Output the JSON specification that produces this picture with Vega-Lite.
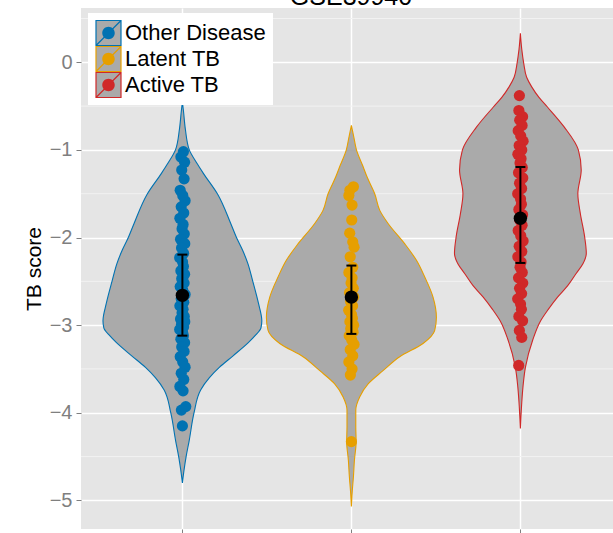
{
"$schema": "https://vega.github.io/schema/vega-lite/v6.json",
"width": 532,
"height": 521,
"autosize": {"type": "none"},
"padding": {"left": 81, "top": 8, "right": 0, "bottom": 4},
"background": "white",
"title": {"text": "GSE39940", "fontSize": 25, "font": "Liberation Sans", "fontWeight": "normal", "color": "black", "anchor": "middle", "frame": "group", "offset": -2, "dx": 4},
"config": {
  "view": {"fill": "#E5E5E5", "stroke": null},
  "font": "Liberation Sans",
  "axis": {"grid": true, "gridColor": "white", "gridWidth": 1.5, "domain": false, "tickColor": "#7F7F7F", "tickSize": 5, "tickWidth": 1, "labelColor": "#7F7F7F", "labelFontSize": 20, "labelFont": "Liberation Sans", "labelPadding": 4, "titleFont": "Liberation Sans", "titleFontSize": 21, "titleFontWeight": "normal", "titleColor": "black", "titlePadding": 5}
},
"datasets": {
  "minor": [{"v": 0.5}, {"v": -0.5}, {"v": -1.5}, {"v": -2.5}, {"v": -3.5}, {"v": -4.5}],
  "violin": [
    {"group": "Other Disease", "y": -0.45, "lo": 1, "hi": 1},
    {"group": "Other Disease", "y": -0.55, "lo": 0.994, "hi": 1.006},
    {"group": "Other Disease", "y": -0.77, "lo": 0.982, "hi": 1.018},
    {"group": "Other Disease", "y": -1.0, "lo": 0.959, "hi": 1.041},
    {"group": "Other Disease", "y": -1.15, "lo": 0.915, "hi": 1.085},
    {"group": "Other Disease", "y": -1.27, "lo": 0.875, "hi": 1.125},
    {"group": "Other Disease", "y": -1.5, "lo": 0.793, "hi": 1.207},
    {"group": "Other Disease", "y": -1.84, "lo": 0.714, "hi": 1.286},
    {"group": "Other Disease", "y": -2.0, "lo": 0.68, "hi": 1.32},
    {"group": "Other Disease", "y": -2.14, "lo": 0.645, "hi": 1.355},
    {"group": "Other Disease", "y": -2.3, "lo": 0.612, "hi": 1.388},
    {"group": "Other Disease", "y": -2.49, "lo": 0.585, "hi": 1.415},
    {"group": "Other Disease", "y": -2.75, "lo": 0.55, "hi": 1.45},
    {"group": "Other Disease", "y": -2.95, "lo": 0.53, "hi": 1.47},
    {"group": "Other Disease", "y": -3.03, "lo": 0.535, "hi": 1.465},
    {"group": "Other Disease", "y": -3.12, "lo": 0.57, "hi": 1.43},
    {"group": "Other Disease", "y": -3.2, "lo": 0.61, "hi": 1.39},
    {"group": "Other Disease", "y": -3.35, "lo": 0.7, "hi": 1.3},
    {"group": "Other Disease", "y": -3.48, "lo": 0.78, "hi": 1.22},
    {"group": "Other Disease", "y": -3.6, "lo": 0.84, "hi": 1.16},
    {"group": "Other Disease", "y": -3.74, "lo": 0.892, "hi": 1.108},
    {"group": "Other Disease", "y": -4.0, "lo": 0.931, "hi": 1.069},
    {"group": "Other Disease", "y": -4.32, "lo": 0.96, "hi": 1.04},
    {"group": "Other Disease", "y": -4.5, "lo": 0.978, "hi": 1.022},
    {"group": "Other Disease", "y": -4.65, "lo": 0.99, "hi": 1.01},
    {"group": "Other Disease", "y": -4.8, "lo": 1, "hi": 1},
    {"group": "Latent TB", "y": -0.72, "lo": 2, "hi": 2},
    {"group": "Latent TB", "y": -0.85, "lo": 1.986, "hi": 2.014},
    {"group": "Latent TB", "y": -1.0, "lo": 1.97, "hi": 2.03},
    {"group": "Latent TB", "y": -1.19, "lo": 1.931, "hi": 2.069},
    {"group": "Latent TB", "y": -1.31, "lo": 1.907, "hi": 2.093},
    {"group": "Latent TB", "y": -1.5, "lo": 1.862, "hi": 2.138},
    {"group": "Latent TB", "y": -1.69, "lo": 1.832, "hi": 2.168},
    {"group": "Latent TB", "y": -1.84, "lo": 1.783, "hi": 2.217},
    {"group": "Latent TB", "y": -2.07, "lo": 1.685, "hi": 2.315},
    {"group": "Latent TB", "y": -2.26, "lo": 1.615, "hi": 2.385},
    {"group": "Latent TB", "y": -2.45, "lo": 1.566, "hi": 2.434},
    {"group": "Latent TB", "y": -2.68, "lo": 1.517, "hi": 2.483},
    {"group": "Latent TB", "y": -2.91, "lo": 1.497, "hi": 2.503},
    {"group": "Latent TB", "y": -3.06, "lo": 1.507, "hi": 2.493},
    {"group": "Latent TB", "y": -3.21, "lo": 1.576, "hi": 2.424},
    {"group": "Latent TB", "y": -3.36, "lo": 1.714, "hi": 2.286},
    {"group": "Latent TB", "y": -3.52, "lo": 1.813, "hi": 2.187},
    {"group": "Latent TB", "y": -3.67, "lo": 1.901, "hi": 2.099},
    {"group": "Latent TB", "y": -3.82, "lo": 1.951, "hi": 2.049},
    {"group": "Latent TB", "y": -3.97, "lo": 1.974, "hi": 2.026},
    {"group": "Latent TB", "y": -4.16, "lo": 1.974, "hi": 2.026},
    {"group": "Latent TB", "y": -4.33, "lo": 1.972, "hi": 2.028},
    {"group": "Latent TB", "y": -4.54, "lo": 1.982, "hi": 2.018},
    {"group": "Latent TB", "y": -4.73, "lo": 1.988, "hi": 2.012},
    {"group": "Latent TB", "y": -4.9, "lo": 1.995, "hi": 2.005},
    {"group": "Latent TB", "y": -5.07, "lo": 2, "hi": 2},
    {"group": "Active TB", "y": 0.33, "lo": 3, "hi": 3},
    {"group": "Active TB", "y": 0.15, "lo": 2.992, "hi": 3.008},
    {"group": "Active TB", "y": -0.015, "lo": 2.98, "hi": 3.02},
    {"group": "Active TB", "y": -0.17, "lo": 2.963, "hi": 3.037},
    {"group": "Active TB", "y": -0.28, "lo": 2.933, "hi": 3.067},
    {"group": "Active TB", "y": -0.4, "lo": 2.89, "hi": 3.11},
    {"group": "Active TB", "y": -0.51, "lo": 2.84, "hi": 3.16},
    {"group": "Active TB", "y": -0.74, "lo": 2.74, "hi": 3.26},
    {"group": "Active TB", "y": -1.0, "lo": 2.657, "hi": 3.343},
    {"group": "Active TB", "y": -1.23, "lo": 2.64, "hi": 3.36},
    {"group": "Active TB", "y": -1.5, "lo": 2.66, "hi": 3.34},
    {"group": "Active TB", "y": -1.73, "lo": 2.645, "hi": 3.355},
    {"group": "Active TB", "y": -1.99, "lo": 2.62, "hi": 3.38},
    {"group": "Active TB", "y": -2.18, "lo": 2.61, "hi": 3.39},
    {"group": "Active TB", "y": -2.3, "lo": 2.63, "hi": 3.37},
    {"group": "Active TB", "y": -2.41, "lo": 2.67, "hi": 3.33},
    {"group": "Active TB", "y": -2.55, "lo": 2.72, "hi": 3.28},
    {"group": "Active TB", "y": -2.68, "lo": 2.78, "hi": 3.22},
    {"group": "Active TB", "y": -2.82, "lo": 2.835, "hi": 3.165},
    {"group": "Active TB", "y": -2.95, "lo": 2.88, "hi": 3.12},
    {"group": "Active TB", "y": -3.17, "lo": 2.927, "hi": 3.073},
    {"group": "Active TB", "y": -3.48, "lo": 2.97, "hi": 3.03},
    {"group": "Active TB", "y": -3.71, "lo": 2.985, "hi": 3.015},
    {"group": "Active TB", "y": -3.95, "lo": 2.994, "hi": 3.006},
    {"group": "Active TB", "y": -4.18, "lo": 3, "hi": 3}
  ],
  "pts": [
    {"grp": "Other Disease", "x": 1.006, "score": -1.02},
    {"grp": "Other Disease", "x": 0.991, "score": -1.08},
    {"grp": "Other Disease", "x": 1.013, "score": -1.14},
    {"grp": "Other Disease", "x": 0.996, "score": -1.23},
    {"grp": "Other Disease", "x": 1.010, "score": -1.33},
    {"grp": "Other Disease", "x": 0.987, "score": -1.46},
    {"grp": "Other Disease", "x": 1.002, "score": -1.52},
    {"grp": "Other Disease", "x": 1.016, "score": -1.58},
    {"grp": "Other Disease", "x": 0.993, "score": -1.65},
    {"grp": "Other Disease", "x": 1.008, "score": -1.72},
    {"grp": "Other Disease", "x": 0.985, "score": -1.78},
    {"grp": "Other Disease", "x": 1.004, "score": -1.85},
    {"grp": "Other Disease", "x": 0.998, "score": -1.90},
    {"grp": "Other Disease", "x": 1.011, "score": -1.96},
    {"grp": "Other Disease", "x": 0.989, "score": -2.02},
    {"grp": "Other Disease", "x": 1.014, "score": -2.07},
    {"grp": "Other Disease", "x": 0.995, "score": -2.12},
    {"grp": "Other Disease", "x": 1.007, "score": -2.18},
    {"grp": "Other Disease", "x": 0.984, "score": -2.23},
    {"grp": "Other Disease", "x": 1.001, "score": -2.28},
    {"grp": "Other Disease", "x": 1.006, "score": -2.33},
    {"grp": "Other Disease", "x": 0.991, "score": -2.38},
    {"grp": "Other Disease", "x": 1.013, "score": -2.42},
    {"grp": "Other Disease", "x": 0.996, "score": -2.47},
    {"grp": "Other Disease", "x": 1.010, "score": -2.52},
    {"grp": "Other Disease", "x": 0.987, "score": -2.56},
    {"grp": "Other Disease", "x": 1.002, "score": -2.60},
    {"grp": "Other Disease", "x": 1.016, "score": -2.65},
    {"grp": "Other Disease", "x": 0.993, "score": -2.70},
    {"grp": "Other Disease", "x": 1.008, "score": -2.74},
    {"grp": "Other Disease", "x": 0.985, "score": -2.78},
    {"grp": "Other Disease", "x": 1.004, "score": -2.82},
    {"grp": "Other Disease", "x": 0.998, "score": -2.86},
    {"grp": "Other Disease", "x": 1.011, "score": -2.90},
    {"grp": "Other Disease", "x": 0.989, "score": -2.93},
    {"grp": "Other Disease", "x": 1.014, "score": -2.96},
    {"grp": "Other Disease", "x": 0.995, "score": -2.99},
    {"grp": "Other Disease", "x": 1.007, "score": -3.02},
    {"grp": "Other Disease", "x": 0.984, "score": -3.05},
    {"grp": "Other Disease", "x": 1.001, "score": -3.08},
    {"grp": "Other Disease", "x": 1.006, "score": -3.12},
    {"grp": "Other Disease", "x": 0.991, "score": -3.16},
    {"grp": "Other Disease", "x": 1.013, "score": -3.20},
    {"grp": "Other Disease", "x": 0.996, "score": -3.25},
    {"grp": "Other Disease", "x": 1.010, "score": -3.30},
    {"grp": "Other Disease", "x": 0.987, "score": -3.36},
    {"grp": "Other Disease", "x": 1.002, "score": -3.42},
    {"grp": "Other Disease", "x": 1.016, "score": -3.48},
    {"grp": "Other Disease", "x": 0.993, "score": -3.55},
    {"grp": "Other Disease", "x": 1.008, "score": -3.62},
    {"grp": "Other Disease", "x": 0.985, "score": -3.70},
    {"grp": "Other Disease", "x": 1.004, "score": -3.75},
    {"grp": "Other Disease", "x": 1.020, "score": -3.93},
    {"grp": "Other Disease", "x": 0.994, "score": -3.97},
    {"grp": "Other Disease", "x": 1.000, "score": -4.15},
    {"grp": "Latent TB", "x": 2.012, "score": -1.42},
    {"grp": "Latent TB", "x": 1.991, "score": -1.46},
    {"grp": "Latent TB", "x": 1.985, "score": -1.52},
    {"grp": "Latent TB", "x": 2.004, "score": -1.63},
    {"grp": "Latent TB", "x": 2.002, "score": -1.80},
    {"grp": "Latent TB", "x": 1.990, "score": -1.95},
    {"grp": "Latent TB", "x": 2.008, "score": -2.05},
    {"grp": "Latent TB", "x": 2.016, "score": -2.11},
    {"grp": "Latent TB", "x": 1.993, "score": -2.22},
    {"grp": "Latent TB", "x": 2.008, "score": -2.34},
    {"grp": "Latent TB", "x": 1.985, "score": -2.40},
    {"grp": "Latent TB", "x": 2.004, "score": -2.46},
    {"grp": "Latent TB", "x": 1.998, "score": -2.52},
    {"grp": "Latent TB", "x": 2.011, "score": -2.58},
    {"grp": "Latent TB", "x": 1.989, "score": -2.63},
    {"grp": "Latent TB", "x": 2.014, "score": -2.68},
    {"grp": "Latent TB", "x": 1.995, "score": -2.73},
    {"grp": "Latent TB", "x": 2.007, "score": -2.78},
    {"grp": "Latent TB", "x": 1.984, "score": -2.83},
    {"grp": "Latent TB", "x": 2.001, "score": -2.88},
    {"grp": "Latent TB", "x": 2.006, "score": -2.92},
    {"grp": "Latent TB", "x": 1.991, "score": -2.96},
    {"grp": "Latent TB", "x": 2.013, "score": -3.00},
    {"grp": "Latent TB", "x": 1.996, "score": -3.04},
    {"grp": "Latent TB", "x": 2.010, "score": -3.08},
    {"grp": "Latent TB", "x": 1.987, "score": -3.12},
    {"grp": "Latent TB", "x": 2.002, "score": -3.17},
    {"grp": "Latent TB", "x": 2.016, "score": -3.22},
    {"grp": "Latent TB", "x": 1.993, "score": -3.28},
    {"grp": "Latent TB", "x": 2.008, "score": -3.35},
    {"grp": "Latent TB", "x": 1.985, "score": -3.42},
    {"grp": "Latent TB", "x": 2.004, "score": -3.50},
    {"grp": "Latent TB", "x": 1.994, "score": -3.57},
    {"grp": "Latent TB", "x": 2.000, "score": -4.33},
    {"grp": "Active TB", "x": 2.994, "score": -0.38},
    {"grp": "Active TB", "x": 2.991, "score": -0.55},
    {"grp": "Active TB", "x": 3.013, "score": -0.62},
    {"grp": "Active TB", "x": 2.996, "score": -0.66},
    {"grp": "Active TB", "x": 3.010, "score": -0.72},
    {"grp": "Active TB", "x": 2.987, "score": -0.78},
    {"grp": "Active TB", "x": 3.002, "score": -0.84},
    {"grp": "Active TB", "x": 3.016, "score": -0.90},
    {"grp": "Active TB", "x": 2.993, "score": -0.95},
    {"grp": "Active TB", "x": 3.008, "score": -1.00},
    {"grp": "Active TB", "x": 2.985, "score": -1.05},
    {"grp": "Active TB", "x": 3.004, "score": -1.10},
    {"grp": "Active TB", "x": 2.998, "score": -1.15},
    {"grp": "Active TB", "x": 3.011, "score": -1.20},
    {"grp": "Active TB", "x": 2.989, "score": -1.26},
    {"grp": "Active TB", "x": 3.014, "score": -1.32},
    {"grp": "Active TB", "x": 2.995, "score": -1.38},
    {"grp": "Active TB", "x": 3.007, "score": -1.44},
    {"grp": "Active TB", "x": 2.984, "score": -1.50},
    {"grp": "Active TB", "x": 3.001, "score": -1.56},
    {"grp": "Active TB", "x": 3.006, "score": -1.62},
    {"grp": "Active TB", "x": 2.991, "score": -1.68},
    {"grp": "Active TB", "x": 3.013, "score": -1.74},
    {"grp": "Active TB", "x": 2.996, "score": -1.80},
    {"grp": "Active TB", "x": 3.010, "score": -1.86},
    {"grp": "Active TB", "x": 2.987, "score": -1.92},
    {"grp": "Active TB", "x": 3.002, "score": -1.98},
    {"grp": "Active TB", "x": 3.016, "score": -2.04},
    {"grp": "Active TB", "x": 2.993, "score": -2.10},
    {"grp": "Active TB", "x": 3.008, "score": -2.16},
    {"grp": "Active TB", "x": 2.985, "score": -2.22},
    {"grp": "Active TB", "x": 3.004, "score": -2.28},
    {"grp": "Active TB", "x": 2.998, "score": -2.34},
    {"grp": "Active TB", "x": 3.011, "score": -2.40},
    {"grp": "Active TB", "x": 2.989, "score": -2.46},
    {"grp": "Active TB", "x": 3.014, "score": -2.52},
    {"grp": "Active TB", "x": 2.995, "score": -2.58},
    {"grp": "Active TB", "x": 3.007, "score": -2.64},
    {"grp": "Active TB", "x": 2.984, "score": -2.70},
    {"grp": "Active TB", "x": 3.001, "score": -2.76},
    {"grp": "Active TB", "x": 3.006, "score": -2.82},
    {"grp": "Active TB", "x": 2.991, "score": -2.90},
    {"grp": "Active TB", "x": 3.013, "score": -2.95},
    {"grp": "Active TB", "x": 2.994, "score": -3.06},
    {"grp": "Active TB", "x": 3.008, "score": -3.14},
    {"grp": "Active TB", "x": 2.990, "score": -3.46}
  ],
  "stats": [
    {"group": "Other Disease", "x": 1, "mean": -2.66, "lo": -3.12, "hi": -2.195},
    {"group": "Latent TB", "x": 2, "mean": -2.68, "lo": -3.10, "hi": -2.32},
    {"group": "Active TB", "x": 3, "mean": -1.78, "lo": -2.29, "hi": -1.195}
  ]
},
"layer": [
  {
    "data": {"name": "minor"},
    "mark": {"type": "rule", "color": "#F2F2F2", "strokeWidth": 1},
    "encoding": {
      "y": {"field": "v", "type": "quantitative", "scale": {"domain": [-5.327, 0.62], "nice": false, "zero": false}, "title": "TB score"}
    }
  },
  {
    "data": {"name": "violin"},
    "mark": {"type": "area", "orient": "horizontal", "fill": "#AAAAAA", "strokeWidth": 1.1, "interpolate": "monotone", "opacity": 1},
    "encoding": {
      "y": {"field": "y", "type": "quantitative", "scale": {"domain": [-5.327, 0.62], "nice": false, "zero": false}, "axis": {"values": [-5, -4, -3, -2, -1, 0], "format": "d"}, "title": "TB score"},
      "x": {"field": "lo", "type": "quantitative", "scale": {"domain": [0.4, 3.548], "nice": false, "zero": false}, "axis": {"values": [1, 2, 3], "labels": false}, "title": null},
      "x2": {"field": "hi"},
      "stroke": {
        "field": "group", "type": "nominal",
        "sort": ["Other Disease", "Latent TB", "Active TB"],
        "scale": {"range": ["#0072B2", "#E69F00", "#D02828"]},
        "legend": {"orient": "none", "legendX": 7, "legendY": 5, "title": null, "direction": "vertical", "symbolType": "M-1,-1H1V1H-1Z M-1,1L1,-1", "symbolSize": 625, "symbolFillColor": "#AAAAAA", "symbolStrokeWidth": 1.2, "symbolOpacity": 1, "labelFontSize": 22, "labelColor": "rgba(0,0,0,0)", "labelOffset": 3, "rowPadding": 0, "clipHeight": 26, "padding": 7, "fillColor": "white", "labelLimit": 400}
      }
    }
  },
  {
    "data": {"name": "pts"},
    "mark": {"type": "circle", "size": 125, "opacity": 1},
    "encoding": {
      "x": {"field": "x", "type": "quantitative", "scale": {"domain": [0.4, 3.548], "nice": false, "zero": false}, "title": null},
      "y": {"field": "score", "type": "quantitative", "scale": {"domain": [-5.327, 0.62], "nice": false, "zero": false}, "title": "TB score"},
      "fill": {
        "field": "grp", "type": "nominal",
        "sort": ["Other Disease", "Latent TB", "Active TB"],
        "scale": {"range": ["#0072B2", "#E69F00", "#D02828"]},
        "legend": {"orient": "none", "legendX": 7, "legendY": 5, "title": null, "direction": "vertical", "symbolType": "M-1,-1L-1,-1M1,1L1,1M0.5,0A0.5,0.5,0,1,1,-0.5,0A0.5,0.5,0,1,1,0.5,0Z", "symbolSize": 625, "symbolStrokeColor": "transparent", "symbolStrokeWidth": 1.2, "symbolOpacity": 1, "labelFontSize": 22, "labelColor": "black", "labelOffset": 3, "rowPadding": 0, "clipHeight": 26, "padding": 7, "labelLimit": 400}
      }
    }
  },
  {
    "data": {"name": "stats"},
    "mark": {"type": "rule", "color": "black", "strokeWidth": 2},
    "encoding": {
      "x": {"field": "x", "type": "quantitative", "scale": {"domain": [0.4, 3.548], "nice": false, "zero": false}, "title": null},
      "y": {"field": "lo", "type": "quantitative", "scale": {"domain": [-5.327, 0.62], "nice": false, "zero": false}, "title": "TB score"},
      "y2": {"field": "hi"}
    }
  },
  {
    "data": {"name": "stats"},
    "mark": {"type": "tick", "orient": "horizontal", "color": "black", "size": 10, "thickness": 2, "opacity": 1},
    "encoding": {
      "x": {"field": "x", "type": "quantitative", "scale": {"domain": [0.4, 3.548], "nice": false, "zero": false}, "title": null},
      "y": {"field": "lo", "type": "quantitative", "scale": {"domain": [-5.327, 0.62], "nice": false, "zero": false}, "title": "TB score"}
    }
  },
  {
    "data": {"name": "stats"},
    "mark": {"type": "tick", "orient": "horizontal", "color": "black", "size": 10, "thickness": 2, "opacity": 1},
    "encoding": {
      "x": {"field": "x", "type": "quantitative", "scale": {"domain": [0.4, 3.548], "nice": false, "zero": false}, "title": null},
      "y": {"field": "hi", "type": "quantitative", "scale": {"domain": [-5.327, 0.62], "nice": false, "zero": false}, "title": "TB score"}
    }
  },
  {
    "data": {"name": "stats"},
    "mark": {"type": "circle", "color": "black", "size": 180, "opacity": 1},
    "encoding": {
      "x": {"field": "x", "type": "quantitative", "scale": {"domain": [0.4, 3.548], "nice": false, "zero": false}, "title": null},
      "y": {"field": "mean", "type": "quantitative", "scale": {"domain": [-5.327, 0.62], "nice": false, "zero": false}, "title": "TB score"}
    }
  }
]
}
